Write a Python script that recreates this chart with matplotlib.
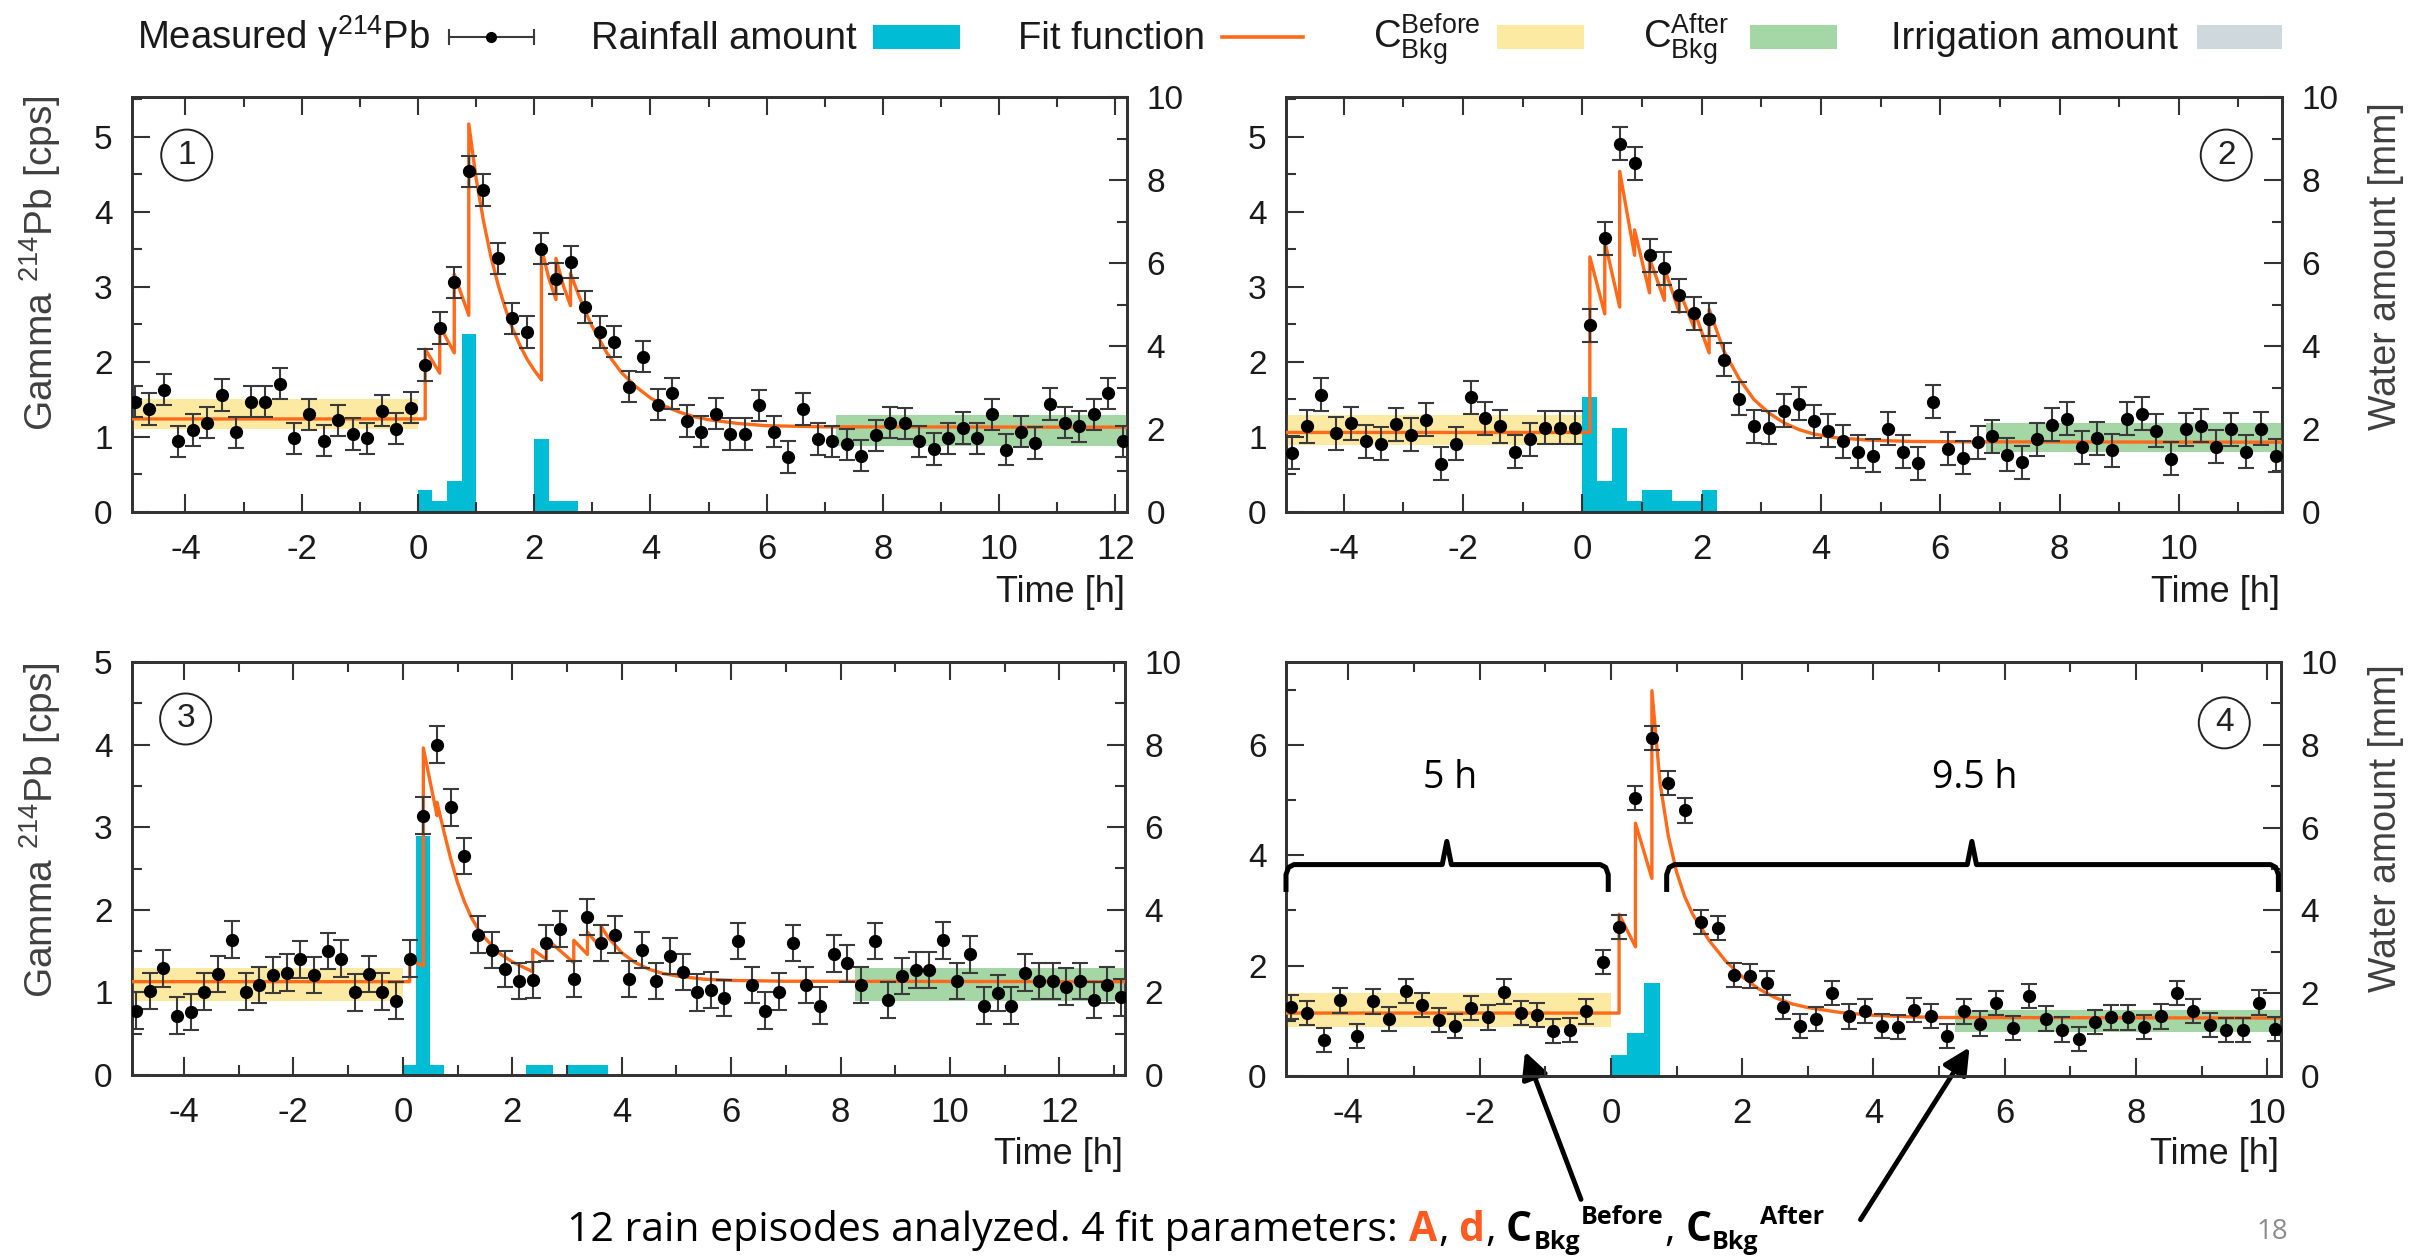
import numpy as np
import matplotlib
matplotlib.use("Agg")
import matplotlib.pyplot as plt
from matplotlib.lines import Line2D
from matplotlib.patches import Rectangle, FancyArrowPatch
from matplotlib.ticker import MultipleLocator

plt.rcParams["font.family"] = ["Liberation Sans", "DejaVu Sans"]
plt.rcParams["mathtext.fontset"] = "custom"
plt.rcParams["mathtext.rm"] = "Liberation Sans"
plt.rcParams["mathtext.it"] = "Liberation Sans:italic"
plt.rcParams["mathtext.bf"] = "Liberation Sans:bold"
plt.rcParams["axes.unicode_minus"] = False

W, H = 2428, 1258

CYAN = "#00bcd4"
ORANGE = "#ff6a1a"
YELLOW = "#fce9a2"
GREEN = "#a4d6a6"
GREY = "#cfd8dc"
AXIS = "#333333"

# ---- data ----
T_FIRST = -4.875   # centre of the first 15 min bin [h]
BIN = 0.25

# episode 1
gamma_1 = [1.47, 1.37, 1.63, 0.94, 1.09, 1.19, 1.56, 1.06, 1.47, 1.47, 1.71, 0.98, 1.30, 0.95, 1.22, 1.04, 0.98, 1.35, 1.11, 1.39,
           1.96, 2.45, 3.06, 4.54, 4.29, 3.38, 2.58, 2.40, 3.51, 3.11, 3.33, 2.73, 2.40, 2.27, 1.67, 2.07, 1.43, 1.58, 1.21, 1.07,
           1.31, 1.04, 1.04, 1.42, 1.07, 0.73, 1.37, 0.97, 0.94, 0.90, 0.75, 1.02, 1.19, 1.18, 0.94, 0.84, 0.98, 1.12, 0.98, 1.30,
           0.83, 1.07, 0.92, 1.44, 1.19, 1.14, 1.30, 1.58, 0.94]
rain_t_1 = [0, 0.25, 0.5, 0.75, 2.0, 2.25, 2.5]
rain_1 = [0.53, 0.26, 0.74, 4.30, 1.77, 0.26, 0.26]
fit_t_1 = [-4.92, 0.125, 0.125, 0.375, 0.375, 0.625, 0.625, 0.875, 0.875, 1.0, 1.125, 1.25, 1.375, 1.5, 1.625, 1.75,
           1.875, 2.0, 2.125, 2.125, 2.25, 2.375, 2.375, 2.5, 2.625, 2.625, 2.75, 2.875, 3.0, 3.25, 3.5, 3.75, 4.0, 4.25,
           4.5, 4.75, 5.0, 5.5, 6.0, 7.0, 12.2]
fit_1 = [1.24, 1.24, 2.17, 1.85, 2.48, 2.12, 3.17, 2.62, 5.17, 4.45, 3.89, 3.42, 3.04, 2.72, 2.45, 2.23,
         2.04, 1.89, 1.76, 3.52, 3.12, 2.83, 3.38, 3.02, 2.75, 3.18, 2.92, 2.68, 2.47, 2.12, 1.86, 1.67, 1.52, 1.41,
         1.33, 1.27, 1.23, 1.18, 1.15, 1.135, 1.13]

# episode 2
gamma_2 = [0.79, 1.14, 1.56, 1.05, 1.18, 0.94, 0.91, 1.17, 1.03, 1.23, 0.64, 0.91, 1.53, 1.25, 1.14, 0.80, 0.97, 1.12, 1.12, 1.12,
           2.49, 3.65, 4.91, 4.65, 3.42, 3.25, 2.89, 2.65, 2.57, 2.03, 1.51, 1.14, 1.12, 1.35, 1.44, 1.21, 1.08, 0.94, 0.80, 0.75,
           1.11, 0.80, 0.65, 1.47, 0.84, 0.72, 0.93, 1.01, 0.76, 0.66, 0.97, 1.16, 1.24, 0.86, 0.98, 0.82, 1.24, 1.31, 1.08, 0.71,
           1.10, 1.15, 0.87, 1.10, 0.80, 1.11, 0.75]
rain_t_2 = [0, 0.25, 0.5, 0.75, 1.0, 1.25, 1.5, 1.75, 2.0]
rain_2 = [2.76, 0.74, 2.03, 0.26, 0.53, 0.53, 0.26, 0.26, 0.53]
fit_t_2 = [-4.97, 0.125, 0.125, 0.375, 0.375, 0.625, 0.625, 0.875, 0.875, 1.125, 1.125, 1.375, 1.375, 1.625, 1.625,
           1.875, 1.875, 2.125, 2.125, 2.375, 2.625, 2.875, 3.125, 3.375, 3.625, 3.875, 4.25, 4.75, 5.5, 6.5, 11.73]
fit_2 = [1.06, 1.06, 3.40, 2.64, 3.61, 2.73, 4.54, 3.42, 3.76, 2.92, 3.38, 2.82, 3.25, 2.66, 2.95,
         2.45, 2.68, 2.12, 2.70, 2.14, 1.78, 1.50, 1.32, 1.19, 1.10, 1.04, 0.99, 0.96, 0.94, 0.935, 0.93]

# episode 3
gamma_3 = [0.78, 1.02, 1.29, 0.72, 0.76, 1.01, 1.22, 1.64, 1.01, 1.09, 1.21, 1.24, 1.40, 1.21, 1.50, 1.41, 1.00, 1.22, 1.01, 0.90,
           1.41, 3.14, 4.00, 3.24, 2.65, 1.70, 1.51, 1.28, 1.14, 1.15, 1.60, 1.77, 1.16, 1.91, 1.60, 1.70, 1.16, 1.51, 1.14, 1.44,
           1.25, 1.00, 1.03, 0.93, 1.62, 1.09, 0.78, 1.01, 1.60, 1.09, 0.84, 1.47, 1.35, 1.09, 1.62, 0.91, 1.20, 1.27, 1.27, 1.63,
           1.14, 1.46, 0.84, 0.99, 0.84, 1.24, 1.14, 1.14, 1.07, 1.14, 0.91, 1.09, 0.94]
rain_t_3 = [0, 0.25, 0.5, 2.25, 2.5, 3.0, 3.25, 3.5]
rain_3 = [0.25, 5.78, 0.25, 0.25, 0.25, 0.25, 0.25, 0.25]
fit_t_3 = [-4.95, 0.125, 0.125, 0.375, 0.375, 0.625, 0.625, 0.75, 0.875, 1.0, 1.125, 1.25, 1.375, 1.5, 1.75, 2.0,
           2.375, 2.375, 2.625, 2.625, 3.125, 3.125, 3.375, 3.375, 3.625, 3.625, 3.75, 4.0, 4.25, 4.5, 4.75, 5.0,
           5.5, 6.0, 7.0, 13.2]
fit_3 = [1.13, 1.13, 1.39, 1.32, 3.96, 3.14, 3.30, 2.95, 2.62, 2.33, 2.10, 1.91, 1.77, 1.66, 1.48, 1.37,
         1.25, 1.52, 1.40, 1.65, 1.36, 1.63, 1.46, 1.73, 1.53, 1.80, 1.67, 1.48, 1.36, 1.28, 1.23, 1.20,
         1.16, 1.145, 1.135, 1.13]

# episode 4
gamma_4 = [1.25, 1.14, 0.65, 1.37, 0.72, 1.35, 1.03, 1.54, 1.29, 1.02, 0.90, 1.23, 1.06, 1.53, 1.14, 1.10, 0.81, 0.83, 1.17, 2.06,
           2.70, 5.03, 6.12, 5.31, 4.81, 2.79, 2.68, 1.83, 1.81, 1.68, 1.25, 0.90, 1.03, 1.50, 1.08, 1.18, 0.90, 0.89, 1.20, 1.09,
           0.73, 1.17, 0.95, 1.32, 0.87, 1.45, 1.04, 0.84, 0.67, 0.98, 1.06, 1.06, 0.89, 1.08, 1.51, 1.18, 0.92, 0.83, 0.83, 1.33,
           0.85]
rain_t_4 = [0, 0.25, 0.5]
rain_4 = [0.50, 1.04, 2.25]
fit_t_4 = [-4.95, 0.125, 0.125, 0.375, 0.375, 0.625, 0.625, 0.75, 0.875, 1.0, 1.125, 1.25, 1.5, 1.75, 2.0, 2.25,
           2.5, 2.75, 3.0, 3.5, 4.0, 4.5, 5.0, 10.21]
fit_4 = [1.14, 1.14, 2.93, 2.34, 4.58, 3.58, 6.98, 5.30, 4.35, 3.70, 3.25, 2.92, 2.45, 2.08, 1.80, 1.58,
         1.42, 1.31, 1.24, 1.15, 1.10, 1.075, 1.06, 1.05]

# background bands: (t_start, t_end, low, high)
before = [(-4.92, 0.0, 1.10, 1.50), (-4.97, 0.0, 0.89, 1.29), (-4.95, 0.0, 0.89, 1.30), (-4.95, 0.0, 0.89, 1.50)]
after = [(7.19, 12.2, 0.88, 1.29), (6.77, 11.73, 0.80, 1.19), (8.26, 13.2, 0.89, 1.29), (5.25, 10.21, 0.79, 1.20)]
errors = [0.21, 0.22, 0.22, 0.22]

# panel 4 annotations: (start, end, centre, label)
spans = [(-4.95, -0.04, -2.5, "5 h"), (0.85, 10.17, 5.5, "9.5 h")]


def px(x, y):
    return x / W, 1 - y / H


fig = plt.figure(figsize=(W / 100, H / 100), dpi=100)

panels = [
    dict(rect=(132, 97, 1127, 512), xlim=(-4.92, 12.2), ylim=(0, 5.53), ymaj=1, ymin=0.5,
         gamma=gamma_1, rt=rain_t_1, r=rain_1, ft=fit_t_1, f=fit_1, num="1", circ=(0.055, 0.86)),
    dict(rect=(1286, 97, 2282, 512), xlim=(-4.97, 11.73), ylim=(0, 5.53), ymaj=1, ymin=0.5,
         gamma=gamma_2, rt=rain_t_2, r=rain_2, ft=fit_t_2, f=fit_2, num="2", circ=(0.944, 0.86)),
    dict(rect=(132, 662, 1125, 1075), xlim=(-4.95, 13.2), ylim=(0, 5.0), ymaj=1, ymin=0.5,
         gamma=gamma_3, rt=rain_t_3, r=rain_3, ft=fit_t_3, f=fit_3, num="3", circ=(0.054, 0.862)),
    dict(rect=(1286, 662, 2281, 1076), xlim=(-4.95, 10.21), ylim=(0, 7.5), ymaj=2, ymin=1,
         gamma=gamma_4, rt=rain_t_4, r=rain_4, ft=fit_t_4, f=fit_4, num="4", circ=(0.943, 0.853)),
]

axes = []
for i, p in enumerate(panels):
    x0, y0, x1, y1 = p["rect"]
    ax = fig.add_axes([x0 / W, 1 - y1 / H, (x1 - x0) / W, (y1 - y0) / H])
    ax2 = ax.twinx()
    ax.set_zorder(ax2.get_zorder() + 1)
    ax.patch.set_visible(False)

    ax2.bar(p["rt"], p["r"], width=BIN, align="edge", color=CYAN, linewidth=0)
    ax2.set_ylim(0, 10)

    b = before[i]
    a = after[i]
    ax.fill_between([b[0], b[1]], b[2], b[3], color=YELLOW, lw=0, zorder=1)
    ax.fill_between([a[0], a[1]], a[2], a[3], color=GREEN, lw=0, zorder=1)

    ax.plot(p["ft"], p["f"], color=ORANGE, lw=2.4, zorder=3)
    t = T_FIRST + BIN * np.arange(len(p["gamma"]))
    ax.errorbar(t, p["gamma"], yerr=errors[i], fmt="o", color="black", ms=8.5,
                ecolor="#3a3a3a", elinewidth=1.5, capsize=5.5, capthick=1.5, zorder=4)

    ax.set_xlim(*p["xlim"])
    ax.set_ylim(*p["ylim"])
    ax.xaxis.set_major_locator(MultipleLocator(2))
    ax.xaxis.set_minor_locator(MultipleLocator(1))
    ax.yaxis.set_major_locator(MultipleLocator(p["ymaj"]))
    ax.yaxis.set_minor_locator(MultipleLocator(p["ymin"]))
    ax2.yaxis.set_major_locator(MultipleLocator(2))
    ax2.yaxis.set_minor_locator(MultipleLocator(1))

    ax.tick_params(axis="x", which="both", direction="in", top=True, bottom=True,
                   colors=AXIS, labelcolor="#1a1a1a", labelsize=25, pad=15, width=1.5)
    ax.tick_params(axis="y", which="both", direction="in", left=True, right=False,
                   colors=AXIS, labelcolor="#1a1a1a", labelsize=24, pad=14, width=1.5)
    ax2.tick_params(axis="y", which="both", direction="in", right=True, left=False,
                    colors=AXIS, labelcolor="#1a1a1a", labelsize=24, pad=14, width=1.5)
    for a_ in (ax, ax2):
        a_.tick_params(which="major", length=13)
        a_.tick_params(which="minor", length=7)
        for s in a_.spines.values():
            s.set_linewidth(2)
            s.set_color(AXIS)

    ax.text(p["circ"][0], p["circ"][1], p["num"], transform=ax.transAxes, ha="center", va="center",
            fontsize=24, color="#222222",
            bbox=dict(boxstyle="circle,pad=0.3", fc="none", ec="#222222", lw=1.4))

    fig.text(*px(x1 - 2, 592 if i < 2 else 1155), "Time [h]", ha="right", va="center",
             fontsize=26, color="#1a1a1a")
    axes.append(ax)

# axis titles
for yc in (263, 830):
    fig.text(*px(40, yc), "Gamma $^{214}$Pb [cps]", rotation=90, ha="center", va="center",
             fontsize=28, color="#404040")
for yc in (266, 828):
    fig.text(*px(2386, yc), "Water amount [mm]", rotation=90, ha="center", va="center",
             fontsize=27, color="#404040")

# braces and durations in panel 4
ax4 = axes[3]
yb, drop, spike, w = 3.83, 0.45, 0.42, 0.07
for s0, s1, xm, label in spans:
    ax4.plot([s0, s0, s0 + 0.04, s0 + 0.12, xm - w, xm, xm + w, s1 - 0.12, s1 - 0.04, s1, s1],
             [yb - drop, yb - 0.18, yb - 0.05, yb, yb, yb + spike, yb, yb, yb - 0.05, yb - 0.18, yb - drop],
             color="black", lw=3.6, solid_joinstyle="round", clip_on=False, zorder=6)
    ax4.text(xm + 0.05, 5.39, label, ha="center", va="center", fontsize=27, family="Open Sans", color="black")

# legend
LEG_Y = 49
legend_labels = ["Measured γ$^{214}$Pb", "Rainfall amount", "Fit function",
                 r"C$_{\mathrm{Bkg}}^{\mathrm{Before}}$", r"C$_{\mathrm{Bkg}}^{\mathrm{After}}$", "Irrigation amount"]
label_right = [430, 857, 1205, 1481, 1729, 2178]
for lab, xr in zip(legend_labels, label_right):
    fig.text(*px(xr, LEG_Y), lab, ha="right", va="baseline", fontsize=27.5, color="#1a1a1a")

fig.add_artist(Line2D([449 / W, 534 / W], [1 - 37 / H] * 2, color="#3a3a3a", lw=1.5))
for xc in (449, 534):
    fig.add_artist(Line2D([xc / W] * 2, [1 - 30 / H, 1 - 44 / H], color="#3a3a3a", lw=1.5))
fig.add_artist(Line2D([491 / W], [1 - 37 / H], marker="o", color="black", ms=7))
fig.add_artist(Line2D([1222 / W, 1303 / W], [1 - 37 / H] * 2, color=ORANGE, lw=2.6))
for (xa, xb), col in zip([(873, 960), (1497, 1584), (1750, 1837), (2197, 2282)], [CYAN, YELLOW, GREEN, GREY]):
    fig.add_artist(Rectangle(px(xa, 49), (xb - xa) / W, 24 / H, transform=fig.transFigure,
                             facecolor=col, edgecolor="none"))

# bottom caption, built piece by piece
renderer = fig.canvas.get_renderer()
CAP = "Open Sans"
pieces = [
    ("12 rain episodes analyzed. 4 fit parameters:", 29.5, "black", "normal", 0, 10),
    ("A", 29.5, "#ff5a1f", "bold", 0, 0),
    (",", 29.5, "black", "normal", 0, 9),
    ("d", 29.5, "#ff5a1f", "bold", 0, 0),
    (",", 29.5, "black", "normal", 0, 9),
    ("C", 29.5, "black", "bold", 0, 0),
    ("Bkg", 18, "black", "bold", 8, 0),
    ("Before", 18, "black", "bold", -17, 0),
    (",", 29.5, "black", "normal", 0, 9),
    ("C", 29.5, "black", "bold", 0, 0),
    ("Bkg", 18, "black", "bold", 8, 0),
    ("After", 18, "black", "bold", -17, 0),
]
xcur = 567
for s, size, col, wt, dy, gap in pieces:
    tt = fig.text(*px(xcur, 1241 + dy), s, ha="left", va="baseline", fontsize=size,
                  color=col, weight=wt, family=CAP)
    xcur += tt.get_window_extent(renderer).width + gap + 1

fig.text(*px(2272, 1232), "18", ha="center", va="center", fontsize=20, color="#8c8c8c", family=CAP)

# arrows to the background regions
for tail, head in [((1582, 1202), (1524, 1049)), ((1859, 1222), (1971, 1045))]:
    fig.add_artist(FancyArrowPatch(px(*tail), px(*head), transform=fig.transFigure,
                                   arrowstyle="-|>,head_length=0.8,head_width=0.4",
                                   mutation_scale=20, lw=3.5, color="black"))

fig.savefig("out.png", dpi=100)
